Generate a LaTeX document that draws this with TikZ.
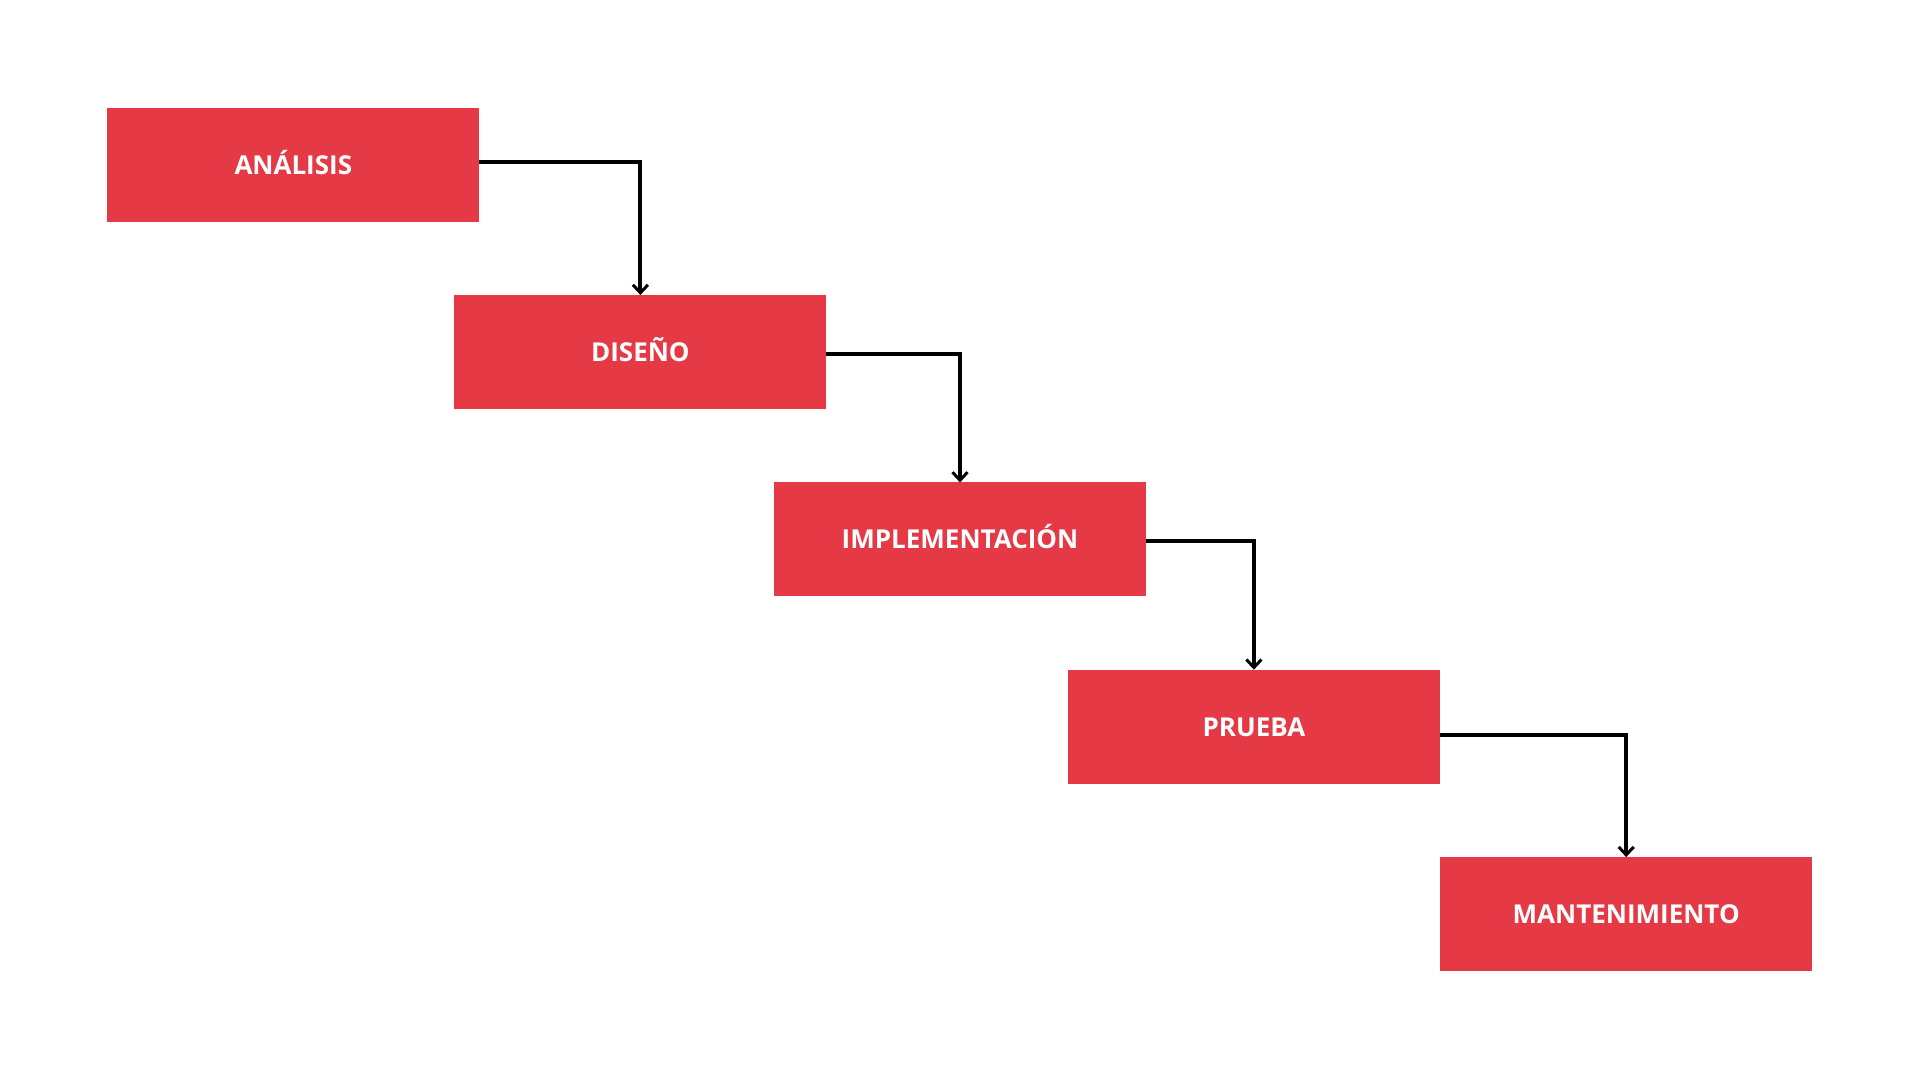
\documentclass[tikz,border=0pt]{standalone}
\usepackage{fontspec}
\setmainfont{Open Sans}
\usepackage{tikz}
\usetikzlibrary{arrows.meta}
\definecolor{red}{HTML}{E63946}

\begin{document}
\begin{tikzpicture}[x=1pt, y=1pt, every path/.style={line cap=butt, line width=4pt}]

        \tikzset{phase/.style = {shape=rectangle, fill=red, draw=none, text=white,
          minimum width=372pt, minimum height=114pt, inner sep=0pt, outer sep=0pt,
          text height=18.6pt, text depth=0pt,
          font=\fontsize{26}{30}\selectfont\bfseries}}
        \tikzset{edge/.style = {-{Straight Barb[length=8pt, width=15pt, line width=3pt]}, black}}

        \useasboundingbox (0,0) rectangle (1920,-1080);

        \node[phase] (1) at (293.3,-164.7) {ANÁLISIS};
        \node[phase] (2) at (640.4,-352) {DISEÑO};
        \node[phase] (3) at (960,-539.4) {IMPLEMENTACIÓN};
        \node[phase] (4) at (1253.9,-726.7) {PRUEBA};
        \node[phase] (5) at (1626.2,-914.1) {MANTENIMIENTO};

        \draw[edge] ([yshift=3pt]1.east) -| (2.north);
        \draw[edge] ([yshift=-2pt]2.east) -| (3.north);
        \draw[edge] ([yshift=-2pt]3.east) -| (4.north);
        \draw[edge] ([yshift=-8pt]4.east) -| (5.north);
	\end{tikzpicture}
\end{document}
